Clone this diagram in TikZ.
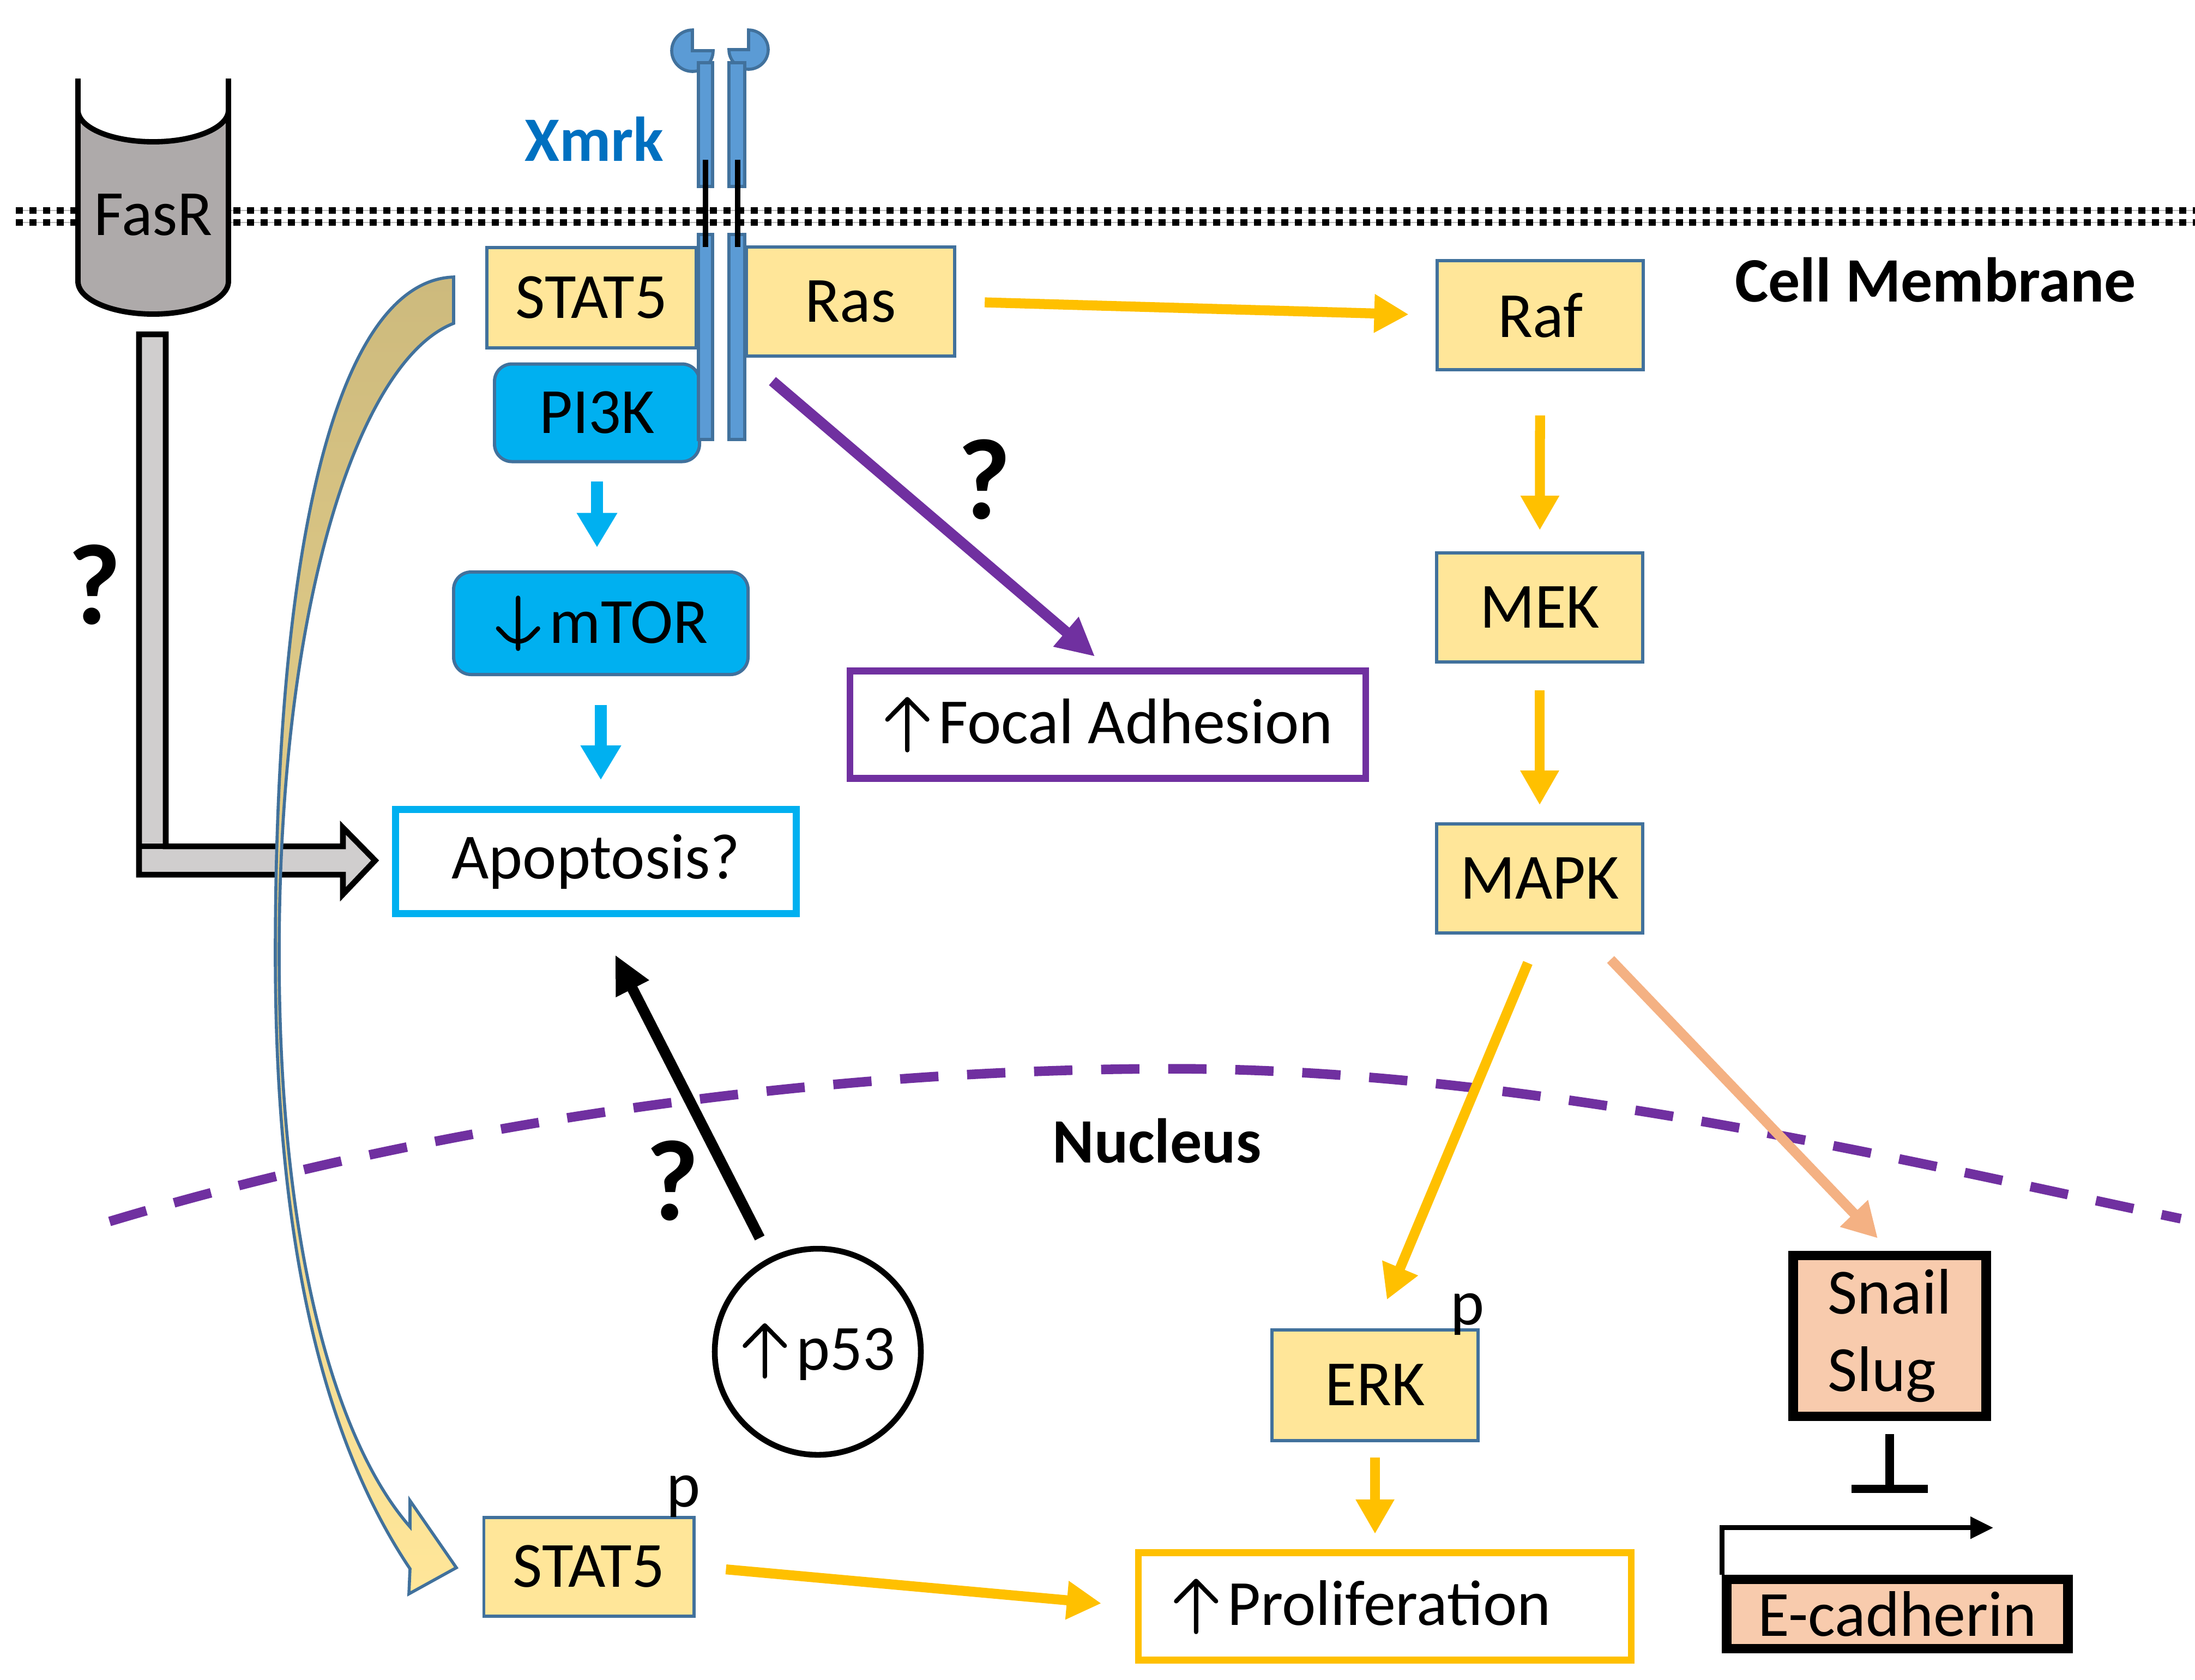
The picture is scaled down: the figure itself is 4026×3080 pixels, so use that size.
\documentclass[tikz,border=0pt]{standalone}
\usepackage{fontspec}
\setmainfont{Carlito}
\usetikzlibrary{arrows.meta}
\newcommand{\upsym}{\kern0.6pt\tikz[baseline=0pt, line width=1.15pt, line cap=round, line join=round]{\draw (0,-1.7pt) -- (0,11.6pt) (-5.2pt,6.3pt) -- (0,11.6pt) -- (5.2pt,6.3pt);}\kern2.4pt}
\newcommand{\downsym}{\kern0.6pt\tikz[baseline=0pt, line width=1.15pt, line cap=round, line join=round]{\draw (0,11.8pt) -- (0,-1.5pt) (-5.2pt,3.8pt) -- (0,-1.5pt) -- (5.2pt,3.8pt);}\kern2.4pt}
\definecolor{boxyellow}{HTML}{FFE699}
\definecolor{boxedge}{HTML}{41719C}
\definecolor{skyblue}{HTML}{00B0F0}
\definecolor{rcpblue}{HTML}{5B9BD5}
\definecolor{xmrkblue}{HTML}{0070C0}
\definecolor{amber}{HTML}{FFC000}
\definecolor{nucpurple}{HTML}{7030A0}
\definecolor{peach}{HTML}{F4B183}
\definecolor{snailfill}{HTML}{F8CBAD}
\definecolor{fasgray}{HTML}{AEAAAA}
\definecolor{lgray}{HTML}{D0CECE}
\definecolor{khaki}{HTML}{CDBA7D}
\tikzset{
  pbox/.style={draw=boxedge, fill=boxyellow, line width=0.85pt, minimum width=18.9mm, minimum height=10mm, inner sep=0pt},
  kbox/.style={pbox, fill=skyblue, rounded corners=1.6mm},
  outbox/.style={draw, fill=white, line width=1.8pt, inner sep=0pt},
  tfbox/.style={draw=black, fill=snailfill, line width=2.5pt, inner sep=0pt},
  rcp/.style={fill=rcpblue, draw=boxedge, line width=0.8pt},
  lbl/.style={font=\fontsize{16.5}{20}\selectfont\bfseries},
  qmark/.style={font=\fontsize{30}{30}\selectfont\bfseries},
  yarrow/.style={amber, line width=2.6pt, -{Triangle[length=9pt,width=9.5pt]}},
  barrow/.style={skyblue, line width=3pt, -{Triangle[length=9pt,width=10pt]}},
  parrow/.style={nucpurple, line width=2.8pt, -{Triangle[length=10pt,width=9.5pt]}},
  karrow/.style={black, line width=2.8pt, -{Triangle[length=10pt,width=9pt]}},
  sarrow/.style={peach, line width=2.6pt, -{Triangle[length=9pt,width=9.5pt]}},
}
\begin{document}
\begin{tikzpicture}[x=0.05mm, y=-0.05mm, font=\fontsize{16.8}{20.2}\selectfont]
\useasboundingbox (0,0) rectangle (4026,3080);
% cell membrane
\foreach \my in {386,408} {
  \draw[gray!55, line width=0.3pt] (29,\my) -- (4026,\my);
  \draw[line width=1.6pt, dash pattern=on 1.85pt off 1.7pt] (29,\my) -- (4026,\my);
}
\node[lbl] (memb) at (3550,513) {Cell Membrane};
% nucleus border
\draw[nucpurple, line width=2.5pt, dash pattern=on 10pt off 7.5pt]
  (201,2240) .. controls (800,2060) and (1500,1960) .. (2150,1960)
  .. controls (2800,1960) and (3500,2130) .. (4000,2235);
\node[lbl] (nuc) at (2122,2092) {Nucleus};
% FasR
\fill[fasgray] (143,202) arc[start angle=180, end angle=0, x radius=138, y radius=58]
  -- (419,516) arc[start angle=0, end angle=180, x radius=138, y radius=60] -- cycle;
\draw[line width=1.4pt] (143,144) -- (143,516) arc[start angle=180, end angle=0, x radius=138, y radius=60] -- (419,144);
\draw[line width=1.4pt] (143,202) arc[start angle=180, end angle=0, x radius=138, y radius=58];
\node (fasr) at (281,394) {FasR};
\filldraw[fill=lgray, line width=1.5pt] (255,613) -- (255,1604) -- (629,1604) -- (629,1640)
  -- (688,1578) -- (629,1518) -- (629,1552) -- (304,1552) -- (304,613) -- cycle;
\draw[line width=1.5pt] (255,1552) -- (304,1552);
\node[qmark] (qfas) at (173,1072) {?};
% boxes
\node[pbox, minimum width=19.2mm, minimum height=9.2mm] (stattop) at (1085,546) {STAT5};
\node[pbox, minimum width=19.05mm] (ras) at (1560,553) {Ras};
\node[kbox, minimum width=18.8mm, minimum height=8.95mm] (pik) at (1095,757) {PI3K};
\node[kbox, minimum width=27mm, minimum height=9.4mm] (mtor) at (1102,1143) {\downsym mTOR};
\node[outbox, draw=skyblue, minimum width=36.75mm, minimum height=9.55mm] (apop) at (1093,1580) {Apoptosis?};
\node[outbox, draw=nucpurple, minimum width=47.3mm, minimum height=9.85mm] (focal) at (2032,1329) {\upsym Focal Adhesion};
\node[pbox] (raf) at (2825,578) {Raf};
\node[pbox] (mek) at (2824,1114) {MEK};
\node[pbox] (mapk) at (2824,1611) {MAPK};
\node[pbox, minimum width=19.25mm, minimum height=9.05mm] (statbot) at (1080,2873) {STAT5};
\node[pbox, minimum height=10.15mm] (erk) at (2522,2540) {ERK};
\node[outbox, draw=amber, minimum width=45.2mm, minimum height=9.85mm, text width=39.1mm, align=left] (prolif) at (2540,2946) {\upsym Proliferation};
\node[tfbox, minimum width=17.7mm, minimum height=14.75mm, align=left] (snail) at (3466,2450) {Snail\\Slug};
\node[tfbox, minimum width=31.3mm, minimum height=6.35mm] (ecad) at (3480,2960) {E-cadherin};
\node[draw, circle, line width=1.5pt, minimum size=18.9mm, inner sep=0pt] (pft) at (1500,2479) {\upsym p53};
\node (pstat) at (1254,2744) {p};
\node (perk) at (2691,2410) {p};
% Xmrk receptor
\filldraw[rcp] (1270,55) arc[start angle=270, end angle=0, radius=38] -- (1270,93) -- cycle;
\filldraw[rcp] (1373,55) arc[start angle=-90, end angle=180, radius=36] -- (1373,91) -- cycle;
\filldraw[rcp] (1281,115) rectangle (1307,342);
\filldraw[rcp] (1337,115) rectangle (1366,342);
\filldraw[rcp] (1281,430) rectangle (1307,806);
\filldraw[rcp] (1337,430) rectangle (1366,806);
\draw[line width=1.5pt] (1294,293) -- (1294,453);
\draw[line width=1.5pt] (1353,293) -- (1353,453);
\node[lbl, text=xmrkblue] (xmrk) at (1090,255) {Xmrk};
% STAT5 translocation
\shadedraw[top color=khaki, bottom color=boxyellow, draw=boxedge, line width=0.8pt]
  (832,508) .. controls (630,515) and (505,950) .. (505,1750)
  .. controls (505,2300) and (600,2650) .. (752,2877)
  -- (750,2923) -- (837,2875) -- (752,2752) -- (752,2800)
  .. controls (620,2650) and (512,2300) .. (512,1750)
  .. controls (512,1100) and (660,660) .. (832,593) -- cycle;
% arrows
\draw[yarrow, shorten <=7.5pt, shorten >=7pt] (ras.east) -- (raf.west);
\draw[yarrow, shorten <=11.5pt, shorten >=5.5pt] (raf) -- (mek);
\draw[yarrow, shorten <=7pt, shorten >=4.5pt] (mek) -- (mapk);
\draw[barrow, shorten <=4.7pt, shorten >=6pt] (pik.south) -- (pik.south |- mtor.north);
\draw[barrow, shorten <=7.5pt, shorten >=6.8pt] (mtor.south) -- (mtor.south |- apop.north);
\draw[parrow, shorten <=9.4pt, shorten >=4.4pt] (ras.south west) -- (focal.north);
\node[qmark] (qfoc) at (1805,879) {?};
\draw[karrow, shorten <=5.7pt, shorten >=11pt] (pft) -- (apop.south);
\node[qmark] (qpft) at (1233,2165) {?};
\draw[yarrow, shorten <=8pt, shorten >=8pt] (mapk.south) -- (erk.north);
\draw[sarrow, shorten <=9pt, shorten >=4.5pt] (mapk.-50) -- (snail.north);
\draw[yarrow, shorten <=4pt, shorten >=4pt] (erk) -- (erk |- prolif.north);
\draw[yarrow, shorten <=8pt, shorten >=8.8pt] (statbot.east) -- (prolif.west);
\draw[line width=2.2pt, -{Bar[width=20pt]}, shorten <=3.4pt] (snail.south) -- ++(0,132);
\draw[line width=1.3pt, -{Triangle[length=6pt,width=5.5pt]}] (ecad.north west) -- ++(0,-86) -- ++(498,0);
\end{tikzpicture}
\end{document}
